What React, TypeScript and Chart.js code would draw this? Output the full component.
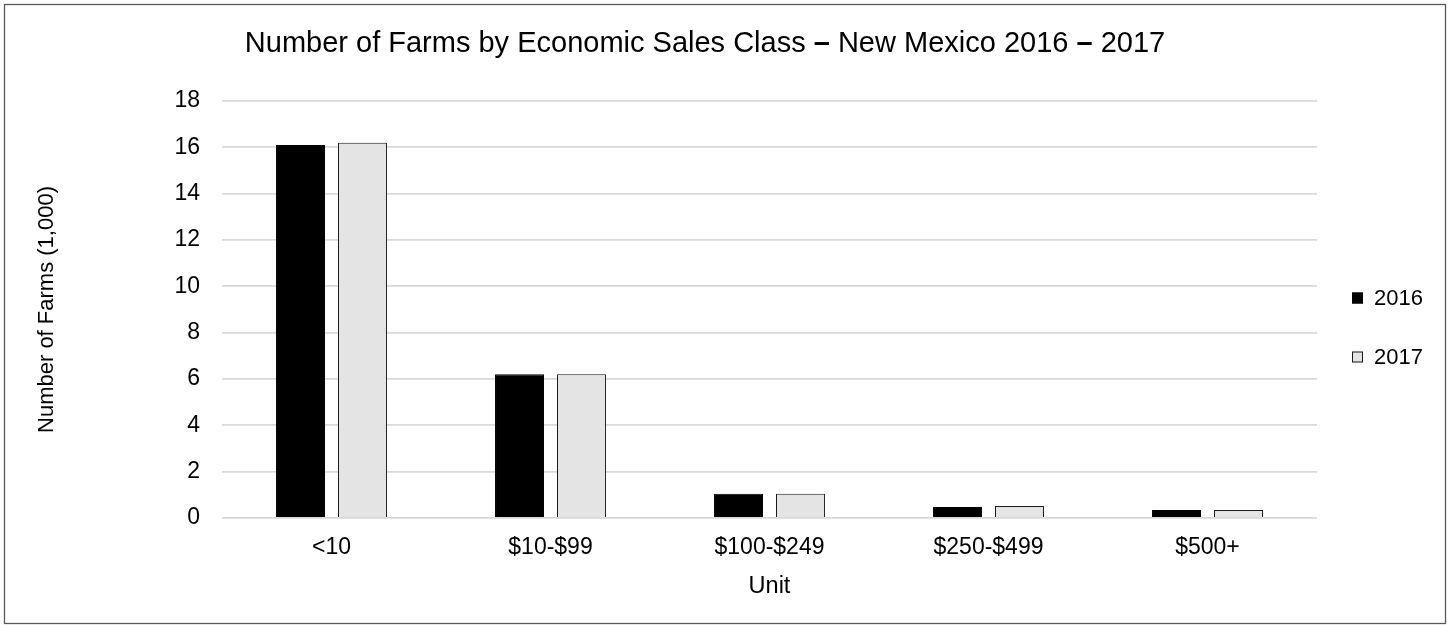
import React, { useEffect, useRef } from "react";
import { Chart, registerables } from "chart.js";

Chart.register(...registerables);

const categories = ["<10", "$10-$99", "$100-$249", "$250-$499", "$500+"];
const seriesLabels = ["2016", "2017"];
const values2016 = [16.1, 6.2, 1.05, 0.48, 0.35];
const values2017 = [16.2, 6.2, 1.05, 0.52, 0.35];
const yMin = 0;
const yMax = 18;
const yStep = 2;
const titleParts = [
  { text: "Number of Farms by Economic Sales Class ", bold: false },
  { text: "\u2013", bold: true },
  { text: " New Mexico 2016 ", bold: false },
  { text: "\u2013", bold: true },
  { text: " 2017", bold: false },
];
const yTitle = "Number of Farms (1,000)";
const xTitle = "Unit";

const FONT = "'Liberation Sans', Arial, sans-serif";
const fills = ["#000000", "#E4E4E4"];
const borders = ["#000000", "#1a1a1a"];

const framePlugin = {
  id: "frame",
  beforeDraw(chart: any) {
    const ctx = chart.ctx;
    ctx.save();
    ctx.fillStyle = "#ffffff";
    ctx.fillRect(0, 0, chart.width, chart.height);
    ctx.strokeStyle = "#595959";
    ctx.lineWidth = 1.3;
    ctx.strokeRect(4.5, 4.5, chart.width - 9, chart.height - 6);
    ctx.restore();
  },
};

const titlePlugin = {
  id: "mixedTitle",
  afterDraw(chart: any) {
    const ctx = chart.ctx;
    ctx.save();
    const size = 29;
    const widths = titleParts.map((p) => {
      ctx.font = `${p.bold ? "bold " : ""}${size}px ${FONT}`;
      return ctx.measureText(p.text).width;
    });
    const total = widths.reduce((a, b) => a + b, 0);
    let x = 705 - total / 2;
    ctx.fillStyle = "#000000";
    ctx.textBaseline = "middle";
    ctx.textAlign = "left";
    titleParts.forEach((p, i) => {
      ctx.font = `${p.bold ? "bold " : ""}${size}px ${FONT}`;
      ctx.fillText(p.text, x, 44);
      x += widths[i];
    });
    ctx.restore();
  },
};

const legendPlugin = {
  id: "sideLegend",
  afterDraw(chart: any) {
    const ctx = chart.ctx;
    ctx.save();
    const box = 11;
    const x = 1352;
    const ys = [298, 357];
    ctx.font = `22px ${FONT}`;
    ctx.textBaseline = "middle";
    ctx.textAlign = "left";
    chart.data.datasets.forEach((ds: any, i: number) => {
      const y = ys[i];
      ctx.fillStyle = ds.backgroundColor;
      ctx.fillRect(x, y - box / 2, box, box);
      ctx.strokeStyle = ds.borderColor;
      ctx.lineWidth = 1;
      ctx.strokeRect(x + 0.5, y - box / 2 + 0.5, box - 1, box - 1);
      ctx.fillStyle = "#000000";
      ctx.fillText(ds.label, x + box + 11, y + 1);
    });
    ctx.restore();
  },
};

export default function App() {
  const ref = useRef<HTMLCanvasElement | null>(null);

  useEffect(() => {
    if (!ref.current) return;
    const chart = new Chart(ref.current, {
      type: "bar",
      data: {
        labels: categories,
        datasets: [
          {
            label: seriesLabels[0],
            data: values2016,
            backgroundColor: fills[0],
            borderColor: borders[0],
            borderWidth: 1,
            categoryPercentage: 0.566,
            barPercentage: 0.79,
          },
          {
            label: seriesLabels[1],
            data: values2017,
            backgroundColor: fills[1],
            borderColor: borders[1],
            borderWidth: 1,
            categoryPercentage: 0.566,
            barPercentage: 0.79,
          },
        ],
      },
      options: {
        responsive: false,
        animation: false,
        layout: { padding: { top: 101, right: 133, bottom: 0, left: 0 } },
        plugins: {
          legend: { display: false },
          title: { display: false },
          tooltip: { enabled: false },
        },
        scales: {
          x: {
            grid: { display: false, drawTicks: false },
            border: { display: false },
            afterFit(scale: any) {
              scale.height = 107;
            },
            ticks: {
              color: "#000000",
              padding: 16,
              font: { family: FONT, size: 23 },
              maxRotation: 0,
              autoSkip: false,
            },
            title: {
              display: true,
              text: xTitle,
              color: "#000000",
              font: { family: FONT, size: 23.5 },
              padding: { top: 4, bottom: 24 },
            },
          },
          y: {
            min: yMin,
            max: yMax,
            grid: { color: "#D9D9D9", lineWidth: 1.8, drawTicks: false },
            border: { display: false },
            afterFit(scale: any) {
              scale.width = 222;
            },
            ticks: {
              stepSize: yStep,
              color: "#000000",
              padding: 22,
              font: { family: FONT, size: 23 },
            },
            title: {
              display: true,
              text: yTitle,
              color: "#000000",
              font: { family: FONT, size: 22 },
              padding: { top: 34, bottom: 4 },
            },
          },
        },
      },
      plugins: [framePlugin, titlePlugin, legendPlugin],
    });
    return () => chart.destroy();
  }, []);

  return (
    <div style={{ position: "absolute", left: 0, top: 0, width: 1450, height: 625 }}>
      <canvas ref={ref} width={1450} height={625} style={{ display: "block" }} />
    </div>
  );
}
